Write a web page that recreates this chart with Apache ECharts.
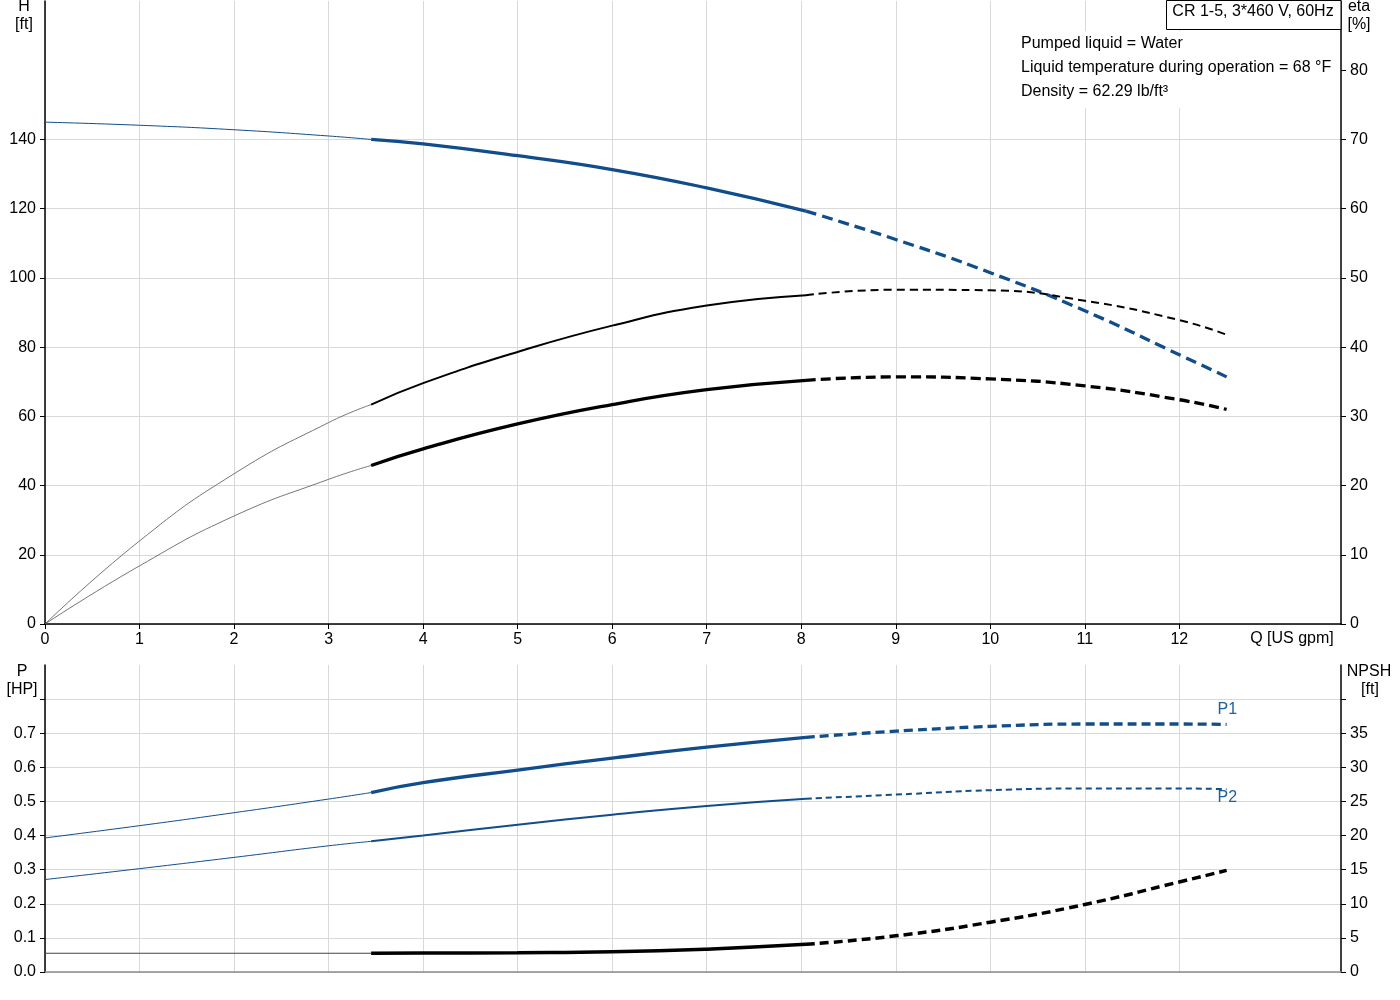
<!DOCTYPE html>
<html>
<head>
<meta charset="utf-8">
<script src="https://cdn.jsdelivr.net/npm/echarts@6/dist/echarts.min.js"></script>
<style>
  html, body { margin: 0; padding: 0; background: #fff; }
  #chart { width: 1400px; height: 1000px; }
</style>
</head>
<body>
<div id="chart"></div>
<script>
// ===== CR 1-5 pump curves =====

const FONT = '"Liberation Sans", Arial, sans-serif';
const BLUE = '#114d8a';
const GRIDC = '#d9d9d9';

// flow points per segment: outside range (thin), operating range (solid), extended (dashed)
const qLow  = [0, 1, 2, 3, 3.45];
const qMid  = [3.45, 4, 5, 6, 7, 8.05];
const qHigh = [8.05, 9, 10, 11, 12, 12.5];

// head H [ft]
const hLow  = [145.0, 144.1, 142.8, 141.0, 140.0];
const hMid  = [140.0, 138.7, 135.3, 131.3, 126.0, 119.3];
const hHigh = [119.3, 111.1, 101.5, 90.5, 77.8, 71.4];

// efficiency eta [%], upper curve and lower curve
const etaALow  = [0, 12.0, 21.7, 29.1, 31.7];
const etaAMid  = [31.7, 34.8, 39.3, 43.1, 46.0, 47.5];
const etaAHigh = [47.5, 48.3, 48.2, 46.7, 43.9, 41.8];
const etaBLow  = [0, 8.4, 15.6, 20.9, 22.9];
const etaBMid  = [22.9, 25.3, 28.9, 31.7, 33.85, 35.2];
const etaBHigh = [35.2, 35.7, 35.4, 34.4, 32.4, 31.0];

// power P1 / P2 [HP]
const p1Low  = [0.393, 0.429, 0.467, 0.507, 0.526];
const p1Mid  = [0.526, 0.555, 0.592, 0.627, 0.659, 0.688];
const p1High = [0.688, 0.706, 0.720, 0.727, 0.727, 0.726];
const p2Low  = [0.271, 0.303, 0.336, 0.370, 0.383];
const p2Mid  = [0.383, 0.400, 0.432, 0.461, 0.487, 0.508];
const p2High = [0.508, 0.520, 0.533, 0.538, 0.538, 0.536];

// NPSH [ft]
const npshLow  = [2.75, 2.75, 2.75, 2.75, 2.75];
const npshMid  = [2.75, 2.77, 2.82, 2.95, 3.35, 4.05];
const npshHigh = [4.05, 5.3, 7.3, 9.9, 13.2, 14.9];

// tick labels
const qTicks    = [0, 1, 2, 3, 4, 5, 6, 7, 8, 9, 10, 11, 12];
const hTicks    = [0, 20, 40, 60, 80, 100, 120, 140];
const etaTicks  = [0, 10, 20, 30, 40, 50, 60, 70, 80];
const pTicks    = [0, 0.1, 0.2, 0.3, 0.4, 0.5, 0.6, 0.7, 0.8];
const pLabels   = [0, 0.1, 0.2, 0.3, 0.4, 0.5, 0.6, 0.7];
const npshTicks = [0, 5, 10, 15, 20, 25, 30, 35, 40];
const npshLabels = [0, 5, 10, 15, 20, 25, 30, 35];

const pts = (qs, vs) => qs.map((q, i) => [q, vs[i]]);

function seg(x, y, qs, vs, color, width, dash, extra) {
  return Object.assign({
    type: 'line', xAxisIndex: x, yAxisIndex: y, smooth: true,
    symbol: 'none', silent: true, data: pts(qs, vs),
    lineStyle: { color: color, width: width, type: dash || 'solid', cap: 'butt' }
  }, extra || {});
}

function xAx(grid, showLabels, lineColor) {
  return {
    type: 'value', gridIndex: grid, min: 0, max: 13.71, interval: 1,
    axisLine: { show: true, lineStyle: { color: lineColor, width: 1.5 } },
    axisTick: { show: showLabels, length: 5, lineStyle: { color: '#000' }, customValues: qTicks },
    axisLabel: { show: showLabels, customValues: qTicks, color: '#000', fontFamily: FONT, fontSize: 16, margin: 8 },
    splitLine: { show: true, lineStyle: { color: GRIDC, width: 1 } }
  };
}

function yAx(grid, pos, min, max, step, ticks, labels, grids, fmt) {
  return {
    type: 'value', gridIndex: grid, position: pos, min: min, max: max, interval: step,
    axisLine: { show: true, lineStyle: { color: '#000', width: 1.5 } },
    axisTick: { show: true, length: 5, lineStyle: { color: '#000' }, customValues: ticks },
    axisLabel: { customValues: labels, color: '#000', fontFamily: FONT, fontSize: 16, margin: 9, formatter: fmt },
    splitLine: { show: grids, lineStyle: { color: GRIDC, width: 1 } }
  };
}

function txt(x, y, s, align, color) {
  return { type: 'text', x: x, y: y, z: 110,
    style: { text: s, fill: color || '#000', font: '16px ' + FONT, textAlign: align || 'center', textVerticalAlign: 'middle' } };
}

const chart = echarts.init(document.getElementById('chart'), null, { renderer: 'canvas' });
chart.setOption({
  animation: false,
  backgroundColor: '#fff',
  grid: [
    { left: 45, right: 59, top: 1, height: 623 },
    { left: 45, right: 59, top: 665, height: 307 }
  ],
  xAxis: [ xAx(0, true, '#000'), xAx(1, false, '#8c8c8c') ],
  yAxis: [
    yAx(0, 'left', 0, 180, 20, hTicks, hTicks, true),
    yAx(0, 'right', 0, 90, 10, etaTicks, etaTicks, false),
    yAx(1, 'left', 0, 0.9, 0.1, pTicks, pLabels, true, v => v.toFixed(1)),
    yAx(1, 'right', 0, 45, 5, npshTicks, npshLabels, false)
  ],
  series: [
    // H
    seg(0, 0, qLow, hLow, BLUE, 1),
    seg(0, 0, qMid, hMid, BLUE, 3.3),
    seg(0, 0, qHigh, hHigh, BLUE, 3.3, [11, 6]),
    // eta
    seg(0, 1, qLow, etaALow, '#666', 0.9),
    seg(0, 1, qMid, etaAMid, '#000', 2),
    seg(0, 1, qHigh, etaAHigh, '#000', 2, [8, 5]),
    seg(0, 1, qLow, etaBLow, '#666', 0.9),
    seg(0, 1, qMid, etaBMid, '#000', 3.3),
    seg(0, 1, qHigh, etaBHigh, '#000', 3.3, [10, 5]),
    // P1, P2
    seg(1, 2, qLow, p1Low, BLUE, 1),
    seg(1, 2, qMid, p1Mid, BLUE, 3.3),
    seg(1, 2, qHigh, p1High, BLUE, 3.3, [9, 5], {
      endLabel: { show: true, formatter: 'P1', color: '#1f5fa0', fontFamily: FONT, fontSize: 16, offset: [-17, -15] }
    }),
    seg(1, 2, qLow, p2Low, BLUE, 1),
    seg(1, 2, qMid, p2Mid, BLUE, 2),
    seg(1, 2, qHigh, p2High, BLUE, 2, [6, 4], {
      endLabel: { show: true, formatter: 'P2', color: '#1f5fa0', fontFamily: FONT, fontSize: 16, offset: [-17, 8] }
    }),
    // NPSH
    seg(1, 3, qLow, npshLow, '#444', 1.2),
    seg(1, 3, qMid, npshMid, '#000', 3.5),
    seg(1, 3, qHigh, npshHigh, '#000', 3.5, [9, 5])
  ],
  graphic: [
    { type: 'rect', z: 100, shape: { x: 1012, y: 31, width: 328, height: 77 }, style: { fill: '#fff' } },
    { type: 'rect', z: 105, shape: { x: 1166.5, y: 0.5, width: 174.5, height: 29 }, style: { fill: '#fff', stroke: '#000', lineWidth: 1 } },
    txt(1253, 12, 'CR 1-5, 3*460 V, 60Hz'),
    txt(1021, 44, 'Pumped liquid = Water', 'left'),
    txt(1021, 68, 'Liquid temperature during operation = 68 °F', 'left'),
    txt(1021, 92, 'Density = 62.29 lb/ft³', 'left'),
    txt(24, 7, 'H'), txt(24, 25, '[ft]'),
    txt(1359, 7, 'eta'), txt(1359, 25, '[%]'),
    txt(22, 672, 'P'), txt(22, 690, '[HP]'),
    txt(1369, 672, 'NPSH'), txt(1370, 690, '[ft]'),
    txt(1292, 639, 'Q [US gpm]')
  ]
});
</script>
</body>
</html>
